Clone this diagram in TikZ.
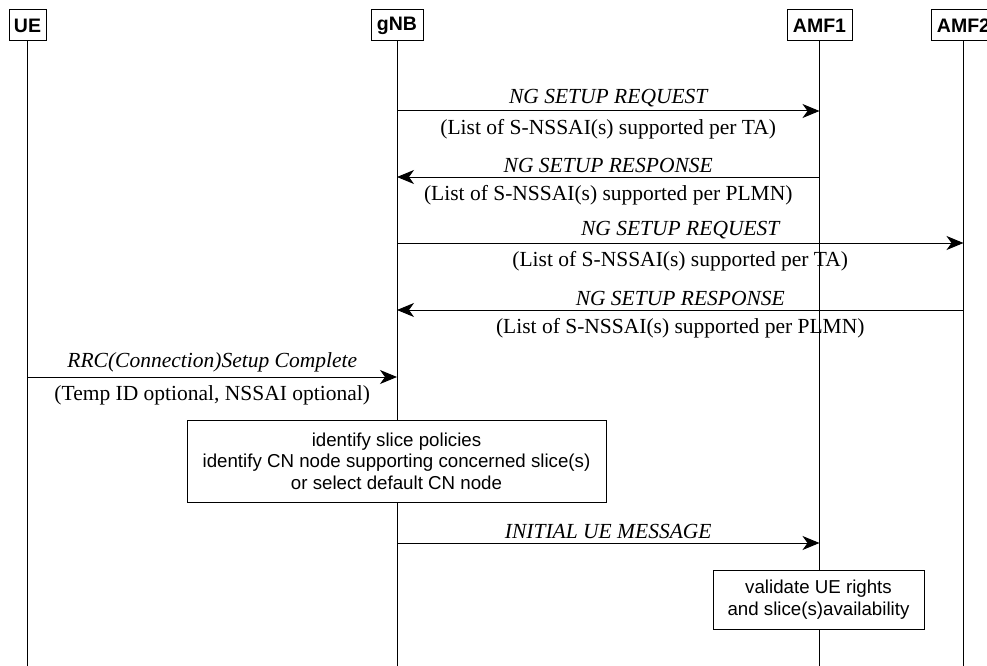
\documentclass[tikz,border=0pt]{standalone}
\usepackage{fontspec}
\setmainfont{Liberation Serif}
\setsansfont{Liberation Sans}
\usetikzlibrary{arrows.meta, positioning, calc}

\newcommand{\msgsize}{\fontsize{21.5}{24}\selectfont}
\newcommand{\boxsize}{\fontsize{18.7}{21.5}\selectfont}
\newcommand{\headsize}{\fontsize{19.5}{22}\selectfont}

\tikzset{
  entity/.style={rectangle, draw, line width=1pt, font=\headsize\sffamily\bfseries, inner sep=2pt, minimum height=31pt},
  lifeline/.style={line width=1pt},
  msg/.style={-{Stealth[length=17pt, width=14pt, inset=5pt]}, line width=1pt},
  msgname/.style={above, font=\msgsize\itshape, inner sep=4pt},
  msgparam/.style={below, font=\msgsize, inner sep=8pt},
  action/.style={rectangle, draw, fill=white, line width=1pt, font=\boxsize\sffamily, align=center},
}

\begin{document}
\begin{tikzpicture}[x=1pt, y=-1pt]
\useasboundingbox (0,0) rectangle (987,666);

% Entities (top)
\node[entity, minimum width=37pt] (ue) at (27.5,25.5) {UE};
\node[entity, minimum width=52pt] (gnb) at (397,25.5) {gNB};
\node[entity, minimum width=65pt] (amf1) at (819.5,25.5) {AMF1};
\node[entity, minimum width=65pt] (amf2) at (963.5,25.5) {AMF2};

% Lifelines
\coordinate (bottom) at (0,666);
\foreach \e in {ue,gnb,amf1,amf2}
  \draw[lifeline] (\e.south) -- (\e.south |- bottom);

% Message rows
\coordinate (r1) at (0,111);
\coordinate (r2) at (0,177);
\coordinate (r3) at (0,243);
\coordinate (r4) at (0,310);
\coordinate (r5) at (0,377);
\coordinate (r6) at (0,461);
\coordinate (r7) at (0,543);
\coordinate (r8) at (0,599.5);

% NG setup with AMF1
\draw[msg] (gnb |- r1) -- node[msgname]{NG SETUP REQUEST} node[msgparam]{(List of S-NSSAI(s) supported per TA)} (amf1 |- r1);
\draw[msg] (amf1 |- r2) -- node[msgname]{NG SETUP RESPONSE} node[msgparam]{(List of S-NSSAI(s) supported per PLMN)} (gnb |- r2);

% NG setup with AMF2
\draw[msg] (gnb |- r3) -- node[msgname]{NG SETUP REQUEST} node[msgparam]{(List of S-NSSAI(s) supported per TA)} (amf2 |- r3);
\draw[msg] (amf2 |- r4) -- node[msgname]{NG SETUP RESPONSE} node[msgparam]{(List of S-NSSAI(s) supported per PLMN)} (gnb |- r4);

% RRC
\draw[msg] (ue |- r5) -- node[msgname]{RRC(Connection)Setup Complete} node[msgparam]{(Temp ID optional, NSSAI optional)} (gnb |- r5);

% gNB slice selection
\node[action, minimum width=419pt, minimum height=82pt] (slicesel) at ([xshift=-0.5pt]gnb |- r6) {identify slice policies\\identify CN node supporting concerned slice(s)\\or select default CN node};

% Initial UE message
\draw[msg] (gnb |- r7) -- node[msgname]{INITIAL UE MESSAGE} (amf1 |- r7);

% AMF1 validation
\node[action, minimum width=211pt, minimum height=59pt] (validate) at ([xshift=-1pt]amf1 |- r8) {validate UE rights\\and slice(s)availability};

\end{tikzpicture}
\end{document}
